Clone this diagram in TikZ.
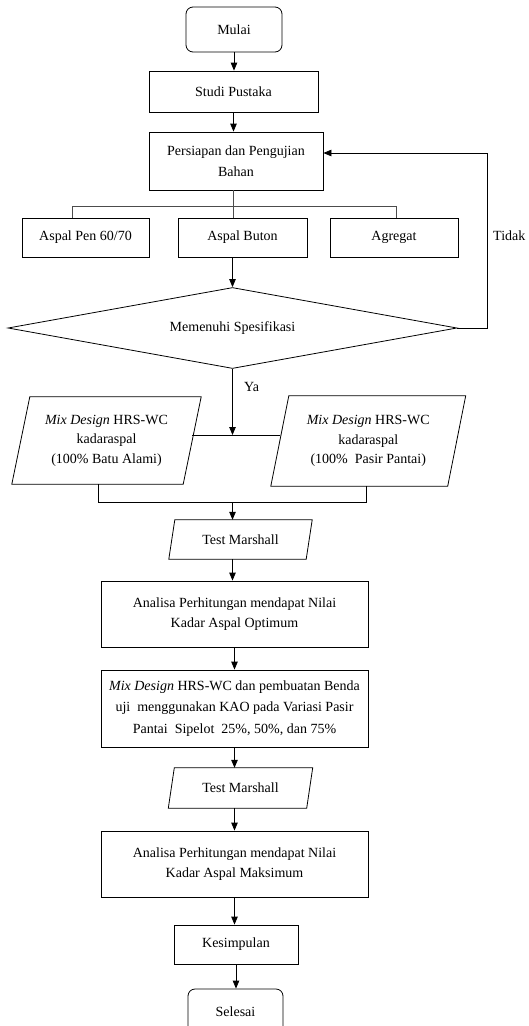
\documentclass[tikz,border=0pt]{standalone}
\usepackage{fontspec}
\setmainfont{Liberation Serif}
\usetikzlibrary{shapes.geometric,arrows.meta}
\begin{document}
\begin{tikzpicture}[x=1pt,y=-1pt,
  font=\fontsize{14}{21}\selectfont,
  every node/.style={inner sep=1pt},
  bx/.style 2 args={draw, line width=0.8pt, rectangle, minimum width=#1pt, minimum height=#2pt, align=center},
  term/.style 2 args={bx={#1}{#2}, rounded corners=7pt},
  pl/.style 2 args={rectangle, minimum width=#1pt, minimum height=#2pt, align=center},
  pline/.style={line width=0.8pt},
  arr/.style={line width=0.8pt, -{Triangle[length=8pt,width=6.5pt]}},
  ln/.style={line width=0.8pt, draw=black!70},
  ptxt/.style={font=\fontsize{14}{19.5}\selectfont}
]
\useasboundingbox (0,0) rectangle (528,1026);
\clip (0,0) rectangle (528,1026);

% nodes
\node[term={96}{45}] (m) at (234,29.5) {Mulai};
\node[bx={169}{41}] (s) at (233.5,91.5) {Studi Pustaka};
\node[bx={174}{58}] (pb) at (236,161) {Persiapan dan Pengujian\\Bahan};
\node[bx={127}{39}] (a1) at (85.5,237.5) {Aspal Pen 60/70};
\node[bx={129}{39}] (a2) at (242.5,237.5) {Aspal Buton};
\node[bx={128}{39}] (a3) at (394,237.5) {Agregat};
\node[diamond, draw, line width=0.8pt, minimum width=449pt, minimum height=81pt, aspect=5, inner sep=0pt] (d) at (232.5,328) {Memenuhi Spesifikasi};
\node[anchor=west] (td) at (492,236) {Tidak};
\node[anchor=west] (ya) at (243,387) {Ya};

\node[pl={171}{87}, ptxt] (p1) at (106.5,440.5) {\textit{Mix Design} HRS-WC\\kadaraspal\\(100\% Batu Alami)};
\draw[pline] ([xshift=9pt]p1.north west) -- ([xshift=9pt]p1.north east) -- ([xshift=-9pt]p1.south east) -- ([xshift=-9pt]p1.south west) -- cycle;
\node[pl={176.5}{90}, ptxt] (p2) at (368.25,441) {\textit{Mix Design} HRS-WC\\kadaraspal\\(100\%\ \ Pasir Pantai)};
\draw[pline] ([xshift=9pt]p2.north west) -- ([xshift=9pt]p2.north east) -- ([xshift=-9pt]p2.south east) -- ([xshift=-9pt]p2.south west) -- cycle;

\node[pl={137}{39}] (t1) at (240.5,539.5) {Test Marshall};
\draw[pline] ([xshift=3pt]t1.north west) -- ([xshift=3pt]t1.north east) -- ([xshift=-3pt]t1.south east) -- ([xshift=-3pt]t1.south west) -- cycle;
\node[bx={267}{66}] (an1) at (234.5,614) {Analisa Perhitungan mendapat Nilai\\[-1pt]Kadar Aspal Optimum};
\node[bx={267}{77}, font=\fontsize{14}{21.5}\selectfont] (mx) at (234.5,708.5) {\textit{Mix Design} HRS-WC dan pembuatan Benda\\uji\ \ menggunakan KAO pada Variasi Pasir\\Pantai\ \ Sipelot\ \ 25\%, 50\%, dan 75\%};
\node[pl={138}{40}] (t2) at (240.5,788) {Test Marshall};
\draw[pline] ([xshift=3pt]t2.north west) -- ([xshift=3pt]t2.north east) -- ([xshift=-3pt]t2.south east) -- ([xshift=-3pt]t2.south west) -- cycle;
\node[bx={267}{66}] (an2) at (234.5,864) {Analisa Perhitungan mendapat Nilai\\[-1pt]Kadar Aspal Maksimum};
\node[bx={124}{39}] (k) at (236,944.5) {Kesimpulan};
\node[term={95}{45}] (sel) at (235.5,1011.5) {Selesai};

% coordinates
\coordinate (br) at (233,206);
\coordinate (bl) at (72,206);
\coordinate (bR) at (396,206);
\coordinate (lp) at (487,153);
\coordinate (j1) at (232.5,435);
\coordinate (q1) at (98,502);
\coordinate (q2) at (366,502);
\coordinate (j2) at (232.5,502);

% connectors
\draw[arr] (m.south) -- (m.south |- s.north);
\draw[arr] (s.south) -- (s.south |- pb.north);
\draw[ln] (br |- pb.south) -- (br |- a2.north);
\draw[ln] (bl |- a1.north) -- (bl) -- (bR) -- (bR |- a3.north);
\draw[arr] (d.north |- a2.south) -- (d.north);
\draw[arr] (d.east) -| (lp) -- (lp -| pb.east);
\draw[arr] (d.south) -- (j1);
\draw[pline] (p1.east |- j1) -- (p2.west |- j1);
\draw[pline] (q1 |- p1.south) -- (q1) -- (q2) -- (q2 |- p2.south);
\draw[arr] (j2) -- (j2 |- t1.north);
\draw[arr] (j2 |- t1.south) -- (j2 |- an1.north);
\draw[arr] (an1.south) -- (an1.south |- mx.north);
\draw[arr] (mx.south) -- (mx.south |- t2.north);
\draw[arr] (mx.south |- t2.south) -- (mx.south |- an2.north);
\draw[arr] (an2.south) -- (an2.south |- k.north);
\draw[arr] (k.south) -- (k.south |- sel.north);
\end{tikzpicture}
\end{document}
